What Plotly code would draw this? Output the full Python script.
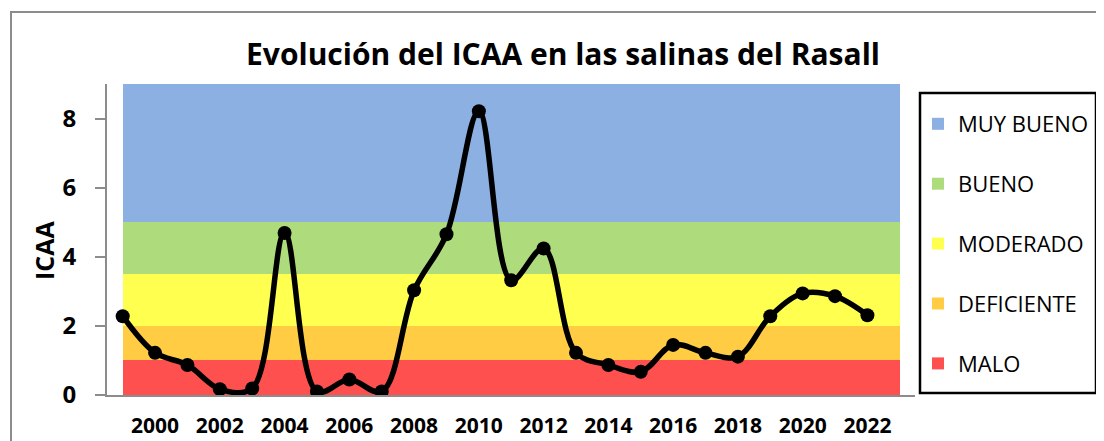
import plotly.graph_objects as go

# ---- data ----
years = list(range(1999, 2023))
icaa = [2.28, 1.22, 0.87, 0.17, 0.19, 4.69, 0.10, 0.45, 0.10, 3.03, 4.65, 8.21,
        3.32, 4.24, 1.22, 0.87, 0.67, 1.45, 1.22, 1.11, 2.28, 2.94, 2.86, 2.31]

band_names = ["MUY BUENO", "BUENO", "MODERADO", "DEFICIENTE", "MALO"]
band_lower = [5, 3.5, 2, 1, 0]
band_upper = [9, 5, 3.5, 2, 1]
band_start, band_end = 1999, 2023

x_tick_labels = [str(y) for y in range(2000, 2023, 2)]
y_tick_values = [0, 2, 4, 6, 8]

title_text = "Evolución del ICAA en las salinas del Rasall"
y_title = "ICAA"

# ---- style ----
band_colors = ["#8DB0E3", "#AEDC7C", "#FFFF50", "#FFCC44", "#FF5050"]
FONT = "Open Sans"
GRAY = "#8c8c8c"

OFF = 8                      # page body margin in the viewer
W, H = 1104 - OFF, 441 - OFF
L, Rp, T, Bp = 107 - OFF, 915 - OFF, 84 - OFF, 395 - OFF   # plot-area edges (px)
pw, ph = Rp - L, Bp - T


def px_x(p):
    return (p - OFF - L) / pw


def px_y(p):
    return (Bp - (p - OFF)) / ph


fig = go.Figure()

for name, lo, hi, col in zip(band_names, band_lower, band_upper, band_colors):
    fig.add_trace(go.Bar(
        x=[(band_start + band_end) / 2], y=[hi - lo], base=[lo],
        width=[band_end - band_start], name=name,
        marker=dict(color=col, line=dict(width=0)),
        legendgroup=name, hoverinfo="skip",
    ))

fig.add_trace(go.Scatter(
    x=years, y=icaa, mode="lines+markers", showlegend=False,
    line=dict(color="black", width=5.5, shape="spline", smoothing=1),
    marker=dict(color="black", size=14),
    hoverinfo="skip",
))

fig.update_layout(
    width=W, height=H,
    margin=dict(l=L, r=W - Rp, t=T, b=H - Bp, autoexpand=False),
    paper_bgcolor="white", plot_bgcolor="white",
    barmode="overlay", bargap=0,
    title=dict(text="<b>" + title_text + "</b>", x=(563 - OFF) / W, xanchor="center",
               xref="container", yref="container",
               y=1 - (54 - OFF) / H, yanchor="middle",
               font=dict(family=FONT, size=30, color="black")),
    xaxis=dict(range=[1998.515, 2023.47], tickvals=[int(t) for t in x_tick_labels],
               ticktext=["<b>%s</b>" % t for t in x_tick_labels],
               tickfont=dict(family=FONT, size=21, color="black"),
               showgrid=False, zeroline=False, showline=True, linecolor=GRAY,
               linewidth=2, ticks="", ticklabelstandoff=11),
    yaxis=dict(range=[0, 9], tickvals=y_tick_values,
               ticktext=["<b>%d</b>" % v for v in y_tick_values],
               tickfont=dict(family=FONT, size=24, color="black"),
               showgrid=False, zeroline=False, showline=True, linecolor=GRAY,
               linewidth=2, ticks="outside", ticklen=10, tickcolor=GRAY,
               tickwidth=2, ticklabelstandoff=14),
    legend=dict(x=px_x(918), xanchor="left", y=px_y(103), yanchor="top",
                traceorder="grouped", tracegroupgap=28.3,
                borderwidth=0, bgcolor="rgba(0,0,0,0)",
                font=dict(family=FONT, size=22, color="black"),
                itemclick=False, itemdoubleclick=False),
    annotations=[dict(text="<b>" + y_title + "</b>", textangle=-90,
                      xref="paper", yref="paper", x=px_x(44), y=px_y(251),
                      xanchor="center", yanchor="middle", showarrow=False,
                      font=dict(family=FONT, size=25, color="black"))],
    shapes=[
        dict(type="rect", xref="paper", yref="paper",
             x0=px_x(11), x1=px_x(1120), y0=px_y(12), y1=px_y(470),
             line=dict(color=GRAY, width=2), layer="below"),
        dict(type="rect", xref="paper", yref="paper",
             x0=px_x(920), x1=px_x(1096), y0=px_y(93), y1=px_y(393),
             line=dict(color="black", width=2.5), layer="above"),
    ],
)

fig.write_html("out.html")
